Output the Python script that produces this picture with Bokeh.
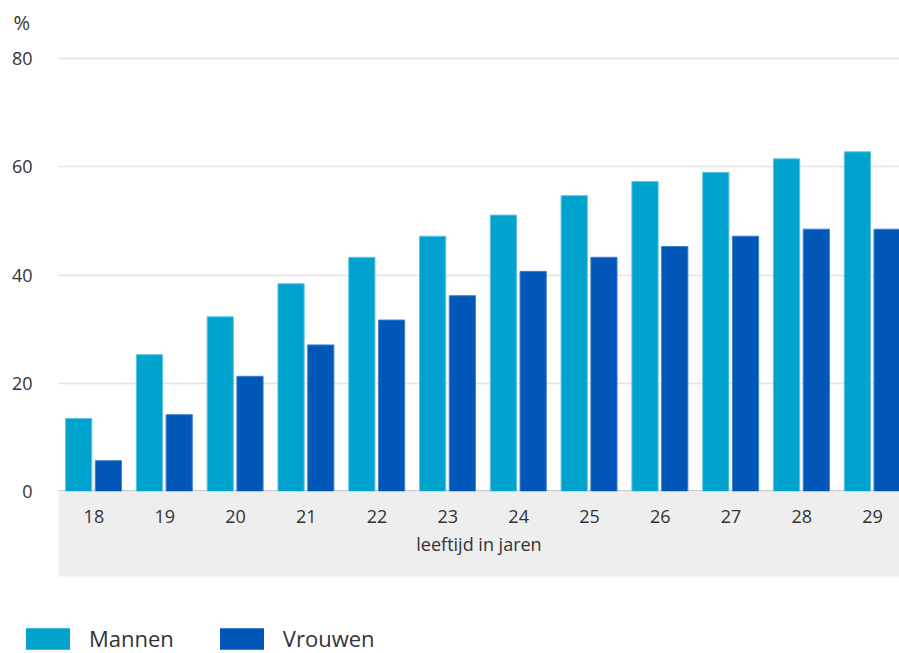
from bokeh.plotting import figure
from bokeh.layouts import column, row
from bokeh.models import Range1d, FixedTicker, Legend, LegendItem, ColumnDataSource, Span
from bokeh.transform import dodge
from bokeh.embed import file_html
from bokeh.resources import INLINE

ages = ["18", "19", "20", "21", "22", "23", "24", "25", "26", "27", "28", "29"]
mannen = [13.5, 25.3, 32.3, 38.4, 43.3, 47.2, 51.1, 54.7, 57.3, 59.0, 61.5, 62.8]
vrouwen = [5.7, 14.2, 21.3, 27.1, 31.7, 36.2, 40.7, 43.3, 45.3, 47.2, 48.5, 48.5]
y_ticks = [0, 20, 40, 60, 80]

FONT = "Open Sans"
TXT = "#333333"
C_M = "#00a2ce"
C_V = "#0057b8"

pos = list(range(len(ages)))
src = ColumnDataSource(dict(pos=pos, mannen=mannen, vrouwen=vrouwen))

p = figure(width=899, height=600, output_backend="svg", toolbar_location=None,
           x_range=Range1d(-0.5, 11.38), y_range=Range1d(0, 83.2),
           min_border_left=58, min_border_right=0, min_border_top=40, min_border_bottom=109)
p.outline_line_color = None
p.background_fill_color = "white"

p.title.text = "%"
p.title.align = "left"
p.title.offset = -45
p.title.text_font = FONT
p.title.text_font_size = "20px"
p.title.text_font_style = "normal"
p.title.text_color = TXT
p.title.standoff = 12

rm = p.vbar(x=dodge("pos", -0.215, range=p.x_range), top="mannen", width=0.37, bottom=0,
            source=src, fill_color=C_M, line_color="#5cc4e3", line_width=1)
rv = p.vbar(x=dodge("pos", 0.205, range=p.x_range), top="vrouwen", width=0.37, bottom=0,
            source=src, fill_color=C_V, line_color="#3f7fcf", line_width=1)

base = Span(location=0, dimension="width", line_color="#cccccc", line_width=3, level="underlay")
p.add_layout(base)

p.ygrid.ticker = FixedTicker(ticks=y_ticks)
p.ygrid.grid_line_color = "#e3e3e3"
p.ygrid.grid_line_width = 1.5
p.xgrid.grid_line_color = None

ya = p.yaxis[0]
ya.ticker = FixedTicker(ticks=y_ticks)
ya.axis_line_color = None
ya.major_tick_line_color = None
ya.minor_tick_line_color = None
ya.major_label_standoff = 20
ya.major_label_text_font = FONT
ya.major_label_text_font_size = "18px"
ya.major_label_text_color = TXT

xa = p.xaxis[0]
xa.ticker = FixedTicker(ticks=pos)
xa.major_label_overrides = {i: a for i, a in zip(pos, ages)}
xa.axis_line_color = None
xa.major_tick_line_color = None
xa.minor_tick_line_color = None
xa.major_label_standoff = 12
xa.major_label_text_font = FONT
xa.major_label_text_font_size = "18px"
xa.major_label_text_color = TXT
xa.axis_label = "leeftijd in jaren\n\u00a0"
xa.axis_label_standoff = 6
xa.axis_label_text_font = FONT
xa.axis_label_text_font_size = "18px"
xa.axis_label_text_font_style = "normal"
xa.axis_label_text_line_height = 0.75
xa.axis_label_text_color = TXT
xa.background_fill_color = "#eeeeee"

# legend strip below the chart (zero-height bars: only their swatches show)
lsrc = ColumnDataSource(dict(pos=[0.5], mannen=[0], vrouwen=[0]))
lf = figure(width=899, height=53, output_backend="svg", toolbar_location=None,
            x_range=Range1d(0, 1), y_range=Range1d(0, 1),
            x_axis_location=None, y_axis_location=None,
            min_border=0, min_border_left=0, min_border_right=0,
            min_border_top=0, min_border_bottom=0)
lf.outline_line_color = None
lf.xgrid.grid_line_color = None
lf.ygrid.grid_line_color = None
lm = lf.vbar(x="pos", top="mannen", bottom=0, width=0.1, source=lsrc, fill_color=C_M, line_color=None)
lv = lf.vbar(x="pos", top="vrouwen", bottom=0, width=0.1, source=lsrc, fill_color=C_V, line_color=None)

legend = Legend(items=[LegendItem(label="Mannen", renderers=[lm]),
                       LegendItem(label="Vrouwen", renderers=[lv])],
                location=(20, 0), orientation="horizontal",
                glyph_width=55, glyph_height=27, label_standoff=14, spacing=40,
                padding=0, margin=0, border_line_color=None, background_fill_alpha=0,
                label_text_font=FONT, label_text_font_size="22px", label_text_color=TXT)
lf.add_layout(legend, "center")

open("out.html", "w").write(file_html(column(p, row(lf), spacing=0), INLINE))
